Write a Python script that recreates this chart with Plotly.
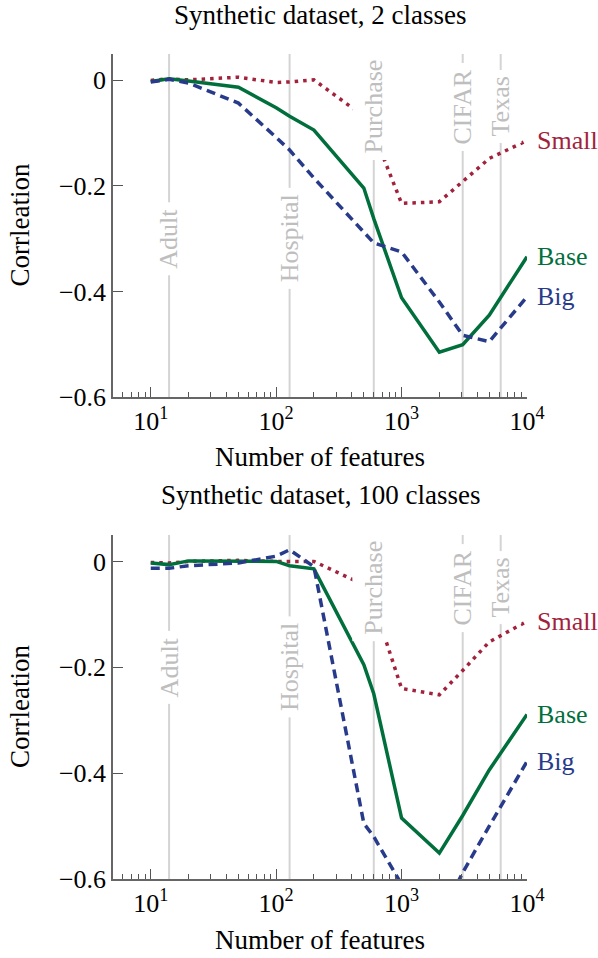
"""Correlation vs. number of features on synthetic data, two panels."""

import numpy as np
import plotly.graph_objects as go

FEATURES = [10, 14, 20, 50, 100, 128, 200, 500, 600, 1000, 2000, 3072, 5000, 10000]

# panel 1: 2 classes
SMALL_2 = [0.000, 0.003, 0.001, 0.006, -0.004, -0.003, 0.001, -0.068, -0.100, -0.233, -0.230, -0.192, -0.148, -0.114]
BASE_2 = [-0.002, 0.003, -0.001, -0.013, -0.052, -0.068, -0.094, -0.204, -0.262, -0.412, -0.515, -0.501, -0.445, -0.334]
BIG_2 = [-0.003, 0.002, -0.005, -0.043, -0.108, -0.132, -0.185, -0.287, -0.308, -0.325, -0.420, -0.483, -0.495, -0.410]

# panel 2: 100 classes
SMALL_100 = [-0.002, -0.003, 0.000, 0.002, 0.000, 0.000, 0.000, -0.044, -0.080, -0.240, -0.252, -0.206, -0.152, -0.113]
BASE_100 = [-0.003, -0.006, 0.001, 0.000, 0.000, -0.008, -0.014, -0.195, -0.250, -0.485, -0.551, -0.480, -0.394, -0.289]
BIG_100 = [-0.013, -0.013, -0.008, -0.003, 0.010, 0.022, -0.010, -0.495, -0.520, -0.610, -0.675, -0.588, -0.500, -0.378]

DATASETS = ["Adult", "Hospital", "Purchase", "CIFAR", "Texas"]
DATASET_FEATURES = [14, 128, 600, 3072, 6170]
LABEL_Y_2 = [-0.30, -0.30, -0.05, -0.05, -0.05]
LABEL_Y_100 = [-0.20, -0.20, -0.05, -0.05, -0.05]

TITLES = ["Synthetic dataset, 2 classes", "Synthetic dataset, 100 classes"]
Y_TICKS = [0, -0.2, -0.4, -0.6]
Y_TICK_TEXT = ["0", "\u22120.2", "\u22120.4", "\u22120.6"]
X_TICKS = [10, 100, 1000, 10000]
X_TICK_TEXT = ["10<sup>1</sup>", "10<sup>2</sup>", "10<sup>3</sup>", "10<sup>4</sup>"]

COLORS = {"Small": "#A2213B", "Base": "#006F3C", "Big": "#283B8A"}
DASHES = {"Small": "3.5px,5px", "Base": "solid", "Big": "9px,5.5px"}
GRAY_LINE = "#D4D4D4"
GRAY_TEXT = "#BEBEBE"
FONT = "Liberation Serif, Times New Roman, serif"
Y_MIN, Y_MAX = -0.6, 0.05

panels = [
    dict(series={"Small": SMALL_2, "Base": BASE_2, "Big": BIG_2}, label_y=LABEL_Y_2, xa="x", ya="y"),
    dict(series={"Small": SMALL_100, "Base": BASE_100, "Big": BIG_100}, label_y=LABEL_Y_100, xa="x2", ya="y2"),
]

fig = go.Figure()
annotations = []

for i, p in enumerate(panels):
    # dataset marker lines
    for n in DATASET_FEATURES:
        fig.add_trace(go.Scatter(
            x=[n, n], y=[Y_MIN, Y_MAX], mode="lines",
            line=dict(color=GRAY_LINE, width=2),
            xaxis=p["xa"], yaxis=p["ya"], showlegend=False, hoverinfo="skip",
        ))
    for name, vals in p["series"].items():
        fig.add_trace(go.Scatter(
            x=FEATURES, y=vals, mode="lines", name=name,
            line=dict(color=COLORS[name], width=3.5, dash=DASHES[name]),
            xaxis=p["xa"], yaxis=p["ya"], showlegend=False,
        ))
        annotations.append(dict(
            x=np.log10(FEATURES[-1]), y=vals[-1], xref=p["xa"], yref=p["ya"],
            text=name, showarrow=False, xanchor="left", xshift=8,
            font=dict(family=FONT, size=26, color=COLORS[name]),
        ))
    for ds, n, ly in zip(DATASETS, DATASET_FEATURES, p["label_y"]):
        annotations.append(dict(
            x=np.log10(n), y=ly, xref=p["xa"], yref=p["ya"],
            text=ds, showarrow=False, textangle=-90,
            bgcolor="white", borderpad=6,
            font=dict(family=FONT, size=26, color=GRAY_TEXT),
        ))
    # axis titles
    annotations.append(dict(
        x=-0.2246, y=0.5, xref=p["xa"] + " domain", yref=p["ya"] + " domain",
        text="Corrleation", showarrow=False, textangle=-90,
        xanchor="center", yanchor="middle",
        font=dict(family=FONT, size=27, color="black"),
    ))
    annotations.append(dict(
        x=0.5, y=-0.176, xref=p["xa"] + " domain", yref=p["ya"] + " domain",
        text="Number of features", showarrow=False, xanchor="center", yanchor="middle",
        font=dict(family=FONT, size=27, color="black"),
    ))
    annotations.append(dict(
        x=0.5, y=1.115, xref=p["xa"] + " domain", yref=p["ya"] + " domain",
        text=TITLES[i], showarrow=False, xanchor="center", yanchor="middle",
        font=dict(family=FONT, size=27, color="black"),
    ))

minor_vals = [m * 10 ** k for k in range(0, 4) for m in range(2, 10) if 5 < m * 10 ** k < 10000]

xaxis_common = dict(
    type="log", range=[np.log10(5), 4],
    tickmode="array", tickvals=X_TICKS, ticktext=X_TICK_TEXT,
    ticks="inside", ticklen=10, tickwidth=1, tickcolor="#555",
    minor=dict(tickmode="array", tickvals=minor_vals, ticks="inside", ticklen=5, tickwidth=1, tickcolor="#555"),
    showline=True, linecolor="#666", linewidth=1.5, mirror=False,
    showgrid=False, zeroline=False, automargin=False,
    tickfont=dict(family=FONT, size=26, color="black"),
)
yaxis_common = dict(
    range=[Y_MIN, Y_MAX],
    tickmode="array", tickvals=Y_TICKS, ticktext=Y_TICK_TEXT,
    ticks="inside", ticklen=10, tickwidth=1, tickcolor="#555",
    showline=True, linecolor="#666", linewidth=1.5, mirror=False,
    showgrid=False, zeroline=False, automargin=False,
    tickfont=dict(family=FONT, size=26, color="black"),
)

fig.update_layout(
    width=598, height=958,
    margin=dict(l=113, r=71, t=54, b=79),
    paper_bgcolor="white", plot_bgcolor="white",
    xaxis=dict(**xaxis_common, anchor="y"),
    yaxis=dict(**yaxis_common, domain=[0.5842, 1], anchor="x"),
    xaxis2=dict(**xaxis_common, anchor="y2"),
    yaxis2=dict(**yaxis_common, domain=[0, 0.417], anchor="x2"),
    annotations=annotations,
    showlegend=False,
)

# drop the browser's default 8px body margin so the figure sits at the page corner
fig.write_html(
    "out.html",
    config={"displayModeBar": False},
    post_script="document.body.style.margin = '0px';",
)
